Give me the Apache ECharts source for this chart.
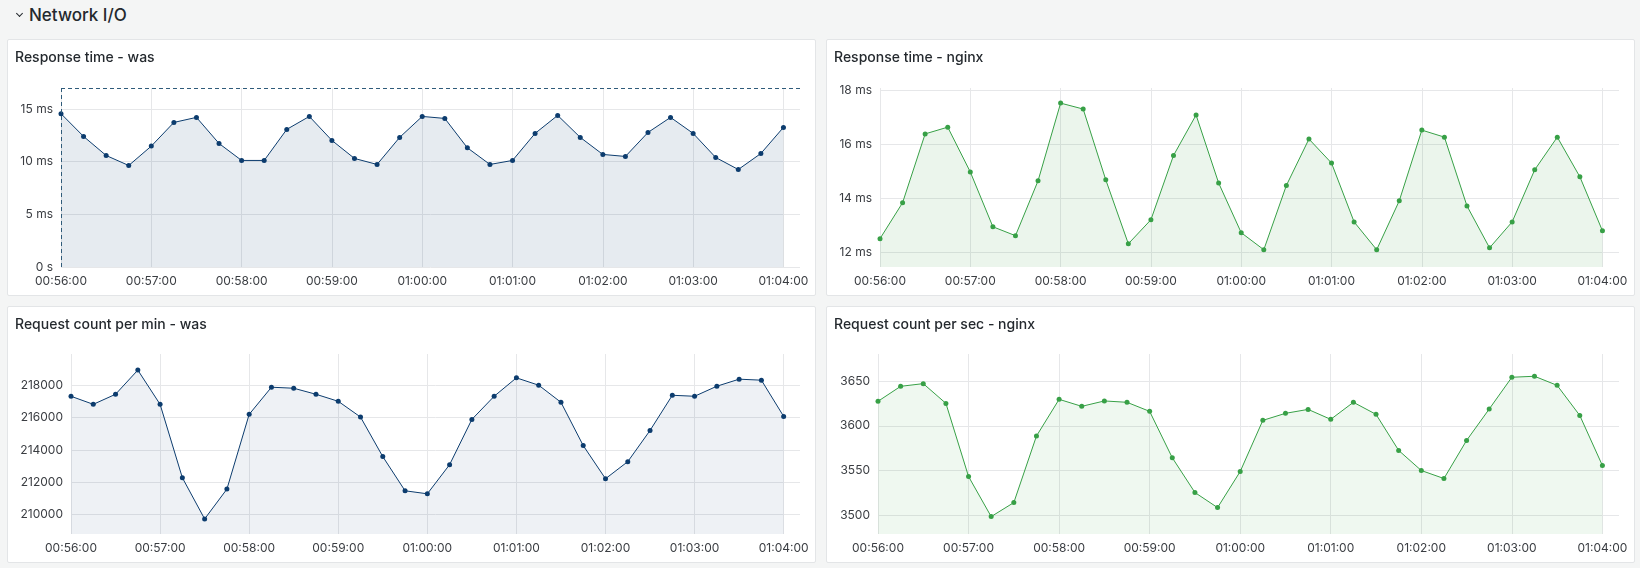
<!DOCTYPE html>
<html>
<head>
<meta charset="utf-8">
<script src="https://cdn.jsdelivr.net/npm/echarts@6/dist/echarts.min.js"></script>
<style>
  body{margin:0;background:#f4f5f5;font-family:Inter,sans-serif;width:1640px;height:568px;overflow:hidden;position:relative}
  .hd{position:absolute;left:29px;top:4px;font-size:17px;font-weight:500;color:#24292e;line-height:22px}
  .chev{position:absolute;left:17px;top:11px;width:4px;height:4px;border-right:1.5px solid #24292e;border-bottom:1.5px solid #24292e;transform:rotate(45deg)}
  .panel{position:absolute;width:807px;height:255px;background:#fff;border:1px solid #e3e5e7;border-radius:2px}
  .panel div.c{width:807px;height:255px}
</style>
</head>
<body>
<div class="chev"></div>
<div class="hd">Network I/O</div>
<div class="panel" style="left:7px;top:39px"><div class="c" id="c1"></div></div>
<div class="panel" style="left:826px;top:39px"><div class="c" id="c2"></div></div>
<div class="panel" style="left:7px;top:306px"><div class="c" id="c3"></div></div>
<div class="panel" style="left:826px;top:306px"><div class="c" id="c4"></div></div>
<script>
// sample times (every 15s)
var times = ['00:56:00','00:56:15','00:56:30','00:56:45','00:57:00','00:57:15','00:57:30','00:57:45',
  '00:58:00','00:58:15','00:58:30','00:58:45','00:59:00','00:59:15','00:59:30','00:59:45',
  '01:00:00','01:00:15','01:00:30','01:00:45','01:01:00','01:01:15','01:01:30','01:01:45',
  '01:02:00','01:02:15','01:02:30','01:02:45','01:03:00','01:03:15','01:03:30','01:03:45','01:04:00'];
var xTicks = ['00:56:00','00:57:00','00:58:00','00:59:00','01:00:00','01:01:00','01:02:00','01:03:00','01:04:00'];

var respWas = [14.56,12.40,10.59,9.64,11.48,13.73,14.21,11.73,10.12,10.12,13.07,14.30,12.02,10.31,9.74,12.31,
  14.30,14.11,11.32,9.74,10.12,12.69,14.40,12.31,10.69,10.50,12.78,14.21,12.69,10.40,9.26,10.78,13.26];
var respNginx = [12.51,13.84,16.39,16.64,14.98,12.95,12.62,14.65,17.53,17.31,14.69,12.32,13.21,15.59,17.09,14.57,
  12.73,12.10,14.48,16.20,15.31,13.13,12.10,13.91,16.53,16.27,13.72,12.17,13.13,15.06,16.27,14.80,12.80];
var reqWas = [217316,216819,217440,218933,216819,212280,209731,211575,216197,217876,217813,217440,217005,216031,213585,211472,
  211285,213088,215886,217316,218456,218000,216943,214269,212218,213275,215202,217378,217316,217938,218373,218311,216073];
var reqNginx = [3627.3,3644.0,3647.0,3625.0,3543.5,3498.9,3514.5,3588.6,3629.5,3621.7,3627.7,3626.2,3616.1,3564.4,3525.7,3508.9,
  3549.1,3606.1,3613.9,3618.3,3607.2,3626.2,3612.8,3572.6,3550.2,3541.3,3583.7,3618.7,3654.1,3655.2,3645.1,3611.6,3555.8];

var yTicks1 = [0,5,10,15];
var yTicks2 = [12,14,16,18];
var yTicks3 = [210000,212000,214000,216000,218000];
var yTicks4 = [3500,3550,3600,3650];

function toSec(s){ var p = s.split(':'); return (+p[0])*3600 + (+p[1])*60 + (+p[2]); }
function pad(n){ return (n < 10 ? '0' : '') + n; }
function toLabel(v){ return pad(Math.floor(v/3600)) + ':' + pad(Math.floor(v%3600/60)) + ':' + pad(v%60); }
function pairs(vals){ return times.map(function(t, i){ return [toSec(t), vals[i]]; }); }

var xMin = toSec(xTicks[0]);
var xMax = toSec(xTicks[xTicks.length-1]) + 11;
var textColor = '#3a3d42';
var gridColor = '#e6e7e9';

function makeOption(o){
  return {
    animation: false,
    title: {text: o.title, left: 7, top: 11, padding: 0,
      textStyle: {fontFamily: 'Inter', fontSize: 14, fontWeight: 500, color: '#24292e'}},
    grid: o.grid,
    xAxis: {
      type: 'value', min: xMin, max: xMax,
      axisLine: {show: false}, axisTick: {show: false, customValues: xTicks.map(toSec)},
      axisLabel: {customValues: xTicks.map(toSec), formatter: toLabel, color: textColor, fontFamily: 'Inter', fontSize: 12, margin: 8},
      splitLine: {show: true, lineStyle: {color: gridColor}}
    },
    yAxis: {
      type: 'value', min: o.yMin, max: o.yMax,
      axisLine: {show: false}, axisTick: {show: false, customValues: o.yTicks},
      axisLabel: {customValues: o.yTicks, formatter: o.fmt, color: textColor, fontFamily: 'Inter', fontSize: 12, margin: 8},
      splitLine: {show: true, lineStyle: {color: gridColor}}
    },
    series: [{
      type: 'line', data: pairs(o.values),
      symbol: 'circle', symbolSize: 5, showSymbol: true,
      itemStyle: {color: o.color},
      lineStyle: {color: o.color, width: 1},
      areaStyle: {color: o.color, opacity: o.fill, origin: 'start'},
      markLine: o.markLine
    }]
  };
}

var c1 = echarts.init(document.getElementById('c1'));
c1.setOption(makeOption({
  title: 'Response time - was', values: respWas, color: '#0c3c6e', fill: 0.1,
  grid: {left: 53, right: 15, top: 48, bottom: 28},
  yMin: 0, yMax: 17, yTicks: yTicks1,
  fmt: function(v){ return v === 0 ? '0 s' : v + ' ms'; },
  markLine: {silent: true, symbol: 'none', label: {show: false},
    lineStyle: {color: '#2f5b7a', type: [4, 3], width: 1},
    data: [{yAxis: 17}, {xAxis: xMin}]}
}));

var c2 = echarts.init(document.getElementById('c2'));
c2.setOption(makeOption({
  title: 'Response time - nginx', values: respNginx, color: '#37a046', fill: 0.1,
  grid: {left: 53, right: 15, top: 48, bottom: 28},
  yMin: 11.46, yMax: 18.09, yTicks: yTicks2,
  fmt: function(v){ return v + ' ms'; }
}));

var c3 = echarts.init(document.getElementById('c3'));
c3.setOption(makeOption({
  title: 'Request count per min - was', values: reqWas, color: '#0c3c6e', fill: 0.07,
  grid: {left: 63, right: 15, top: 47, bottom: 28},
  yMin: 208800, yMax: 219930, yTicks: yTicks3,
  fmt: function(v){ return String(v); }
}));

var c4 = echarts.init(document.getElementById('c4'));
c4.setOption(makeOption({
  title: 'Request count per sec - nginx', values: reqNginx, color: '#37a046', fill: 0.08,
  grid: {left: 51, right: 15, top: 47, bottom: 28},
  yMin: 3479.5, yMax: 3680, yTicks: yTicks4,
  fmt: function(v){ return String(v); }
}));
</script>
</body>
</html>
